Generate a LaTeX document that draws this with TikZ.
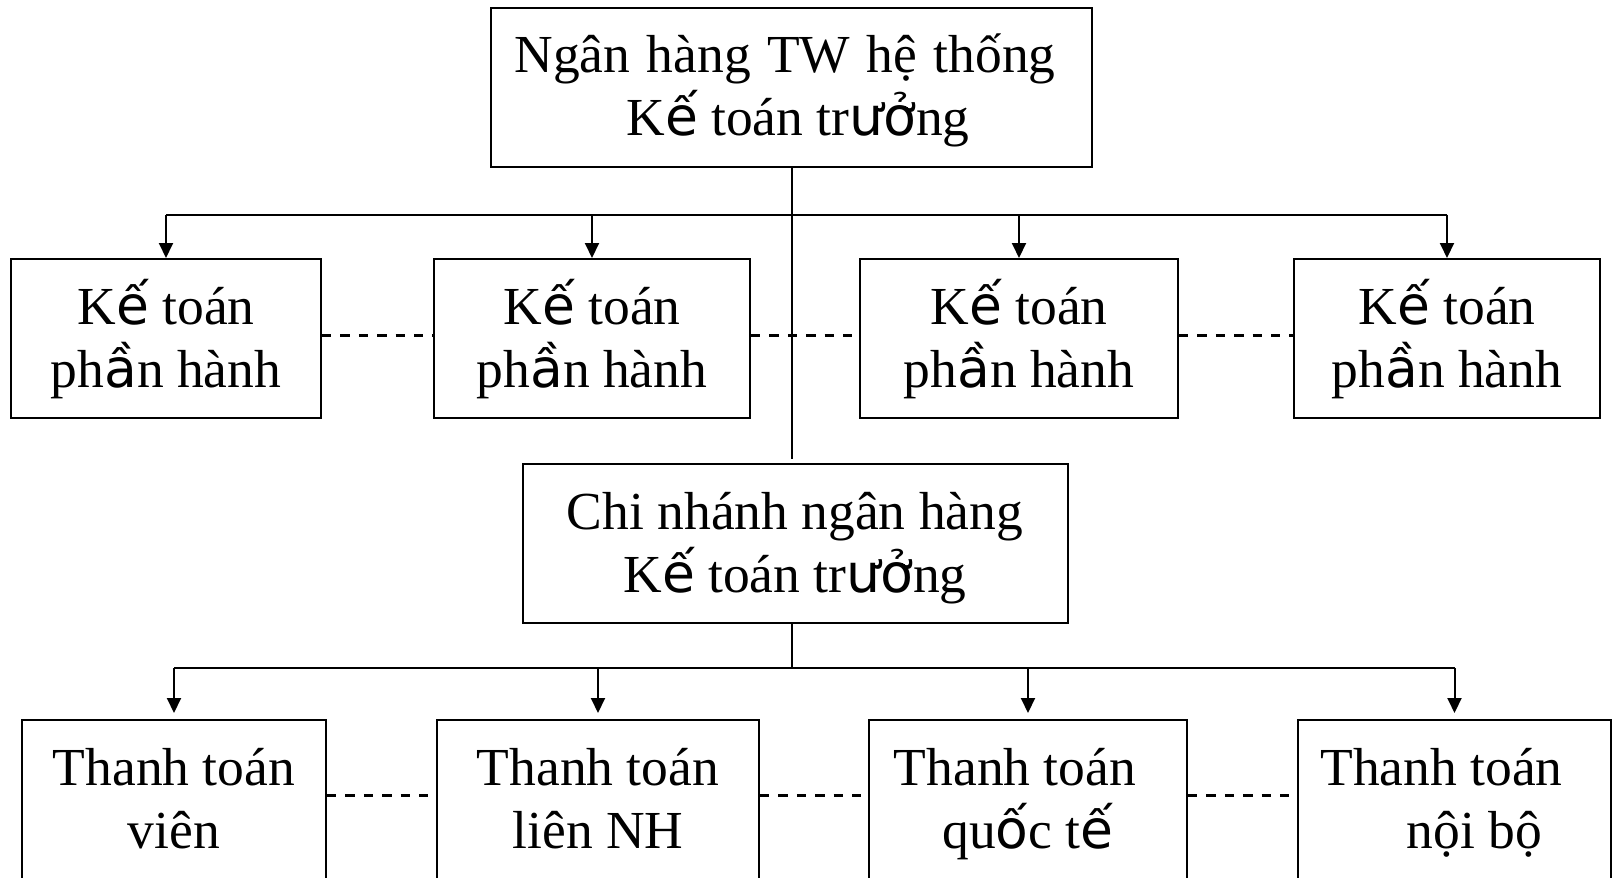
\documentclass[tikz,border=0pt]{standalone}
\usepackage{fontspec}
\setmainfont{Liberation Serif}
\newfontfamily\fbkfont{DejaVu Sans}
\newcommand\fb[1]{{\fbkfont #1}}
\newcommand\wsp{\hspace{8.2pt}}
\usetikzlibrary{arrows.meta}

\begin{document}
\begin{tikzpicture}[x=0.5pt,y=-0.5pt,
  box/.style={draw, line width=1pt, inner sep=0pt, align=center,
    text height=54.5pt, text depth=6pt,
    minimum height=79.5pt, font=\fontsize{26.75}{31.5}\selectfont},
  link/.style={line width=1pt},
  arr/.style={line width=1pt, -{Triangle[length=7.5pt,width=7pt]}},
  dots/.style={line width=1.5pt, dash pattern=on 4.7pt off 4.5pt}]
\clip (0,0) rectangle (1618,878);
\fill[white] (0,0) rectangle (1618,878);

% head office
\node[box, minimum width=300.5pt] (top) at (791.5,87)
  {Ngân\wsp hàng\wsp TW\wsp hệ\wsp thống\kern6.5pt\\\kern6.5pt K\fb{ế} toán tr\fb{ưở}ng};

% accounting sections
\node[box, minimum width=155pt] (b1) at (166,338.5) {K\fb{ế} toán\\ph\fb{ầ}n hành};
\node[box, minimum width=158pt] (b2) at (592,338.5) {K\fb{ế} toán\\ph\fb{ầ}n hành};
\node[box, minimum width=159pt] (b3) at (1019,338.5) {K\fb{ế} toán\\ph\fb{ầ}n hành};
\node[box, minimum width=153pt] (b4) at (1447,338.5) {K\fb{ế} toán\\ph\fb{ầ}n hành};

% branch
\node[box, minimum width=272.5pt] (mid) at (795,543.5)
  {Chi nhánh ngân hàng\\K\fb{ế} toán tr\fb{ưở}ng};

% payment units
\node[box, minimum width=152pt, minimum height=80pt] (c1) at (174,800) {Thanh toán\\viên};
\node[box, minimum width=161pt, minimum height=80pt] (c2) at (598,800) {Thanh toán\\liên NH};
\node[box, minimum width=159pt, minimum height=80pt] (c3) at (1028,800) {Thanh toán\kern13pt\\qu\fb{ố}c t\fb{ế}};
\node[box, minimum width=156.5pt, minimum height=80pt] (c4) at (1454.5,800) {Thanh toán\kern13pt\\\kern20pt nội bộ};

\coordinate (bus1) at (791.5,214.5);
\coordinate (bus2) at (791.5,668);

% upper distribution
\draw[link] (top.south) -- ([yshift=2pt]top.south |- mid.north);
\draw[link] (b1.north |- bus1) -- (b4.north |- bus1);
\foreach \n in {b1,b2,b3,b4}
  \draw[arr] (\n.north |- bus1) -- (\n.north);

% lower distribution
\draw[link] (top.south |- mid.south) -- (bus2);
\draw[link] (c1.north |- bus2) -- (c4.north |- bus2);
\foreach \n in {c1,c2,c3,c4}
  \draw[arr, shorten >=3pt] (\n.north |- bus2) -- (\n.north);

% dashed ties between neighbours
\draw[dots] ([yshift=1.5pt]b1.east) -- ([yshift=1.5pt]b2.west);
\draw[dots] ([yshift=1.5pt]b2.east) -- ([yshift=1.5pt]b3.west);
\draw[dots] ([yshift=1.5pt]b3.east) -- ([yshift=1.5pt]b4.west);
\draw[dots] ([yshift=2.5pt]c1.east) -- ([yshift=2.5pt]c2.west);
\draw[dots] ([yshift=2.5pt]c2.east) -- ([yshift=2.5pt]c3.west);
\draw[dots] ([yshift=2.5pt]c3.east) -- ([yshift=2.5pt]c4.west);
\end{tikzpicture}
\end{document}
